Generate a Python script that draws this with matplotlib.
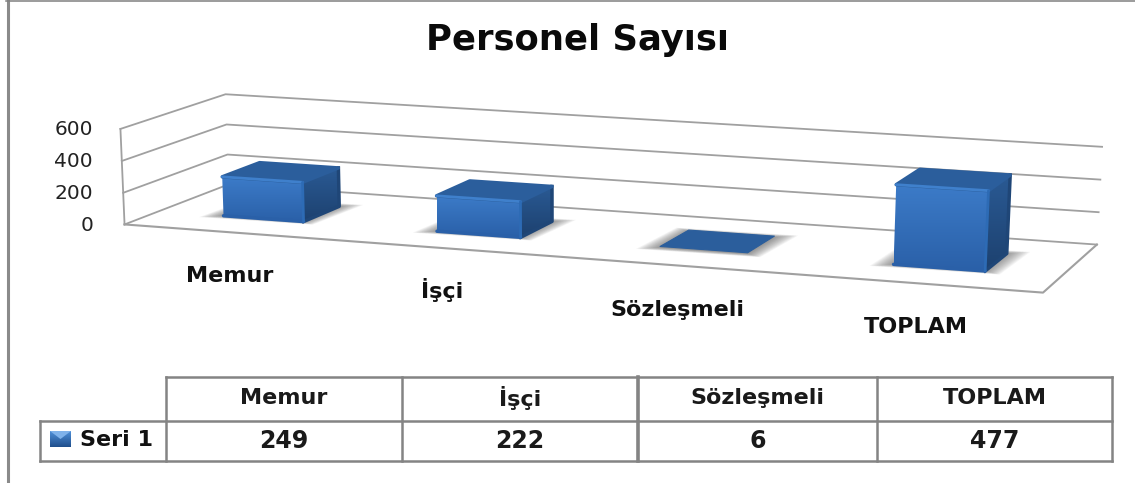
import numpy as np
import matplotlib
matplotlib.use("Agg")
import matplotlib.pyplot as plt
from matplotlib.colors import LinearSegmentedColormap
from matplotlib.patches import Polygon

categories = ["Memur", "İşçi", "Sözleşmeli", "TOPLAM"]
values = [249, 222, 6, 477]
series_name = "Seri 1"
y_ticks = [0, 200, 400, 600]

W, H = 1135, 483
GRID = "#a0a0a0"
LINE = "#848484"

# where the corners of the 3d box land in the picture: (cat, depth, value) -> pixel
corners = [
    ((0, 0, 0), (125, 224)),
    ((4, 0, 0), (1043, 293)),
    ((4, 1, 0), (1097, 244)),
    ((0, 1, 0), (228, 185)),
    ((0, 0, 600), (120, 129)),
    ((0, 1, 600), (226, 94)),
    ((4, 1, 600), (1102, 147)),
]


def fit_camera(pairs):
    # DLT, 3x4 matrix with last element fixed to 1
    rows, rhs = [], []
    for (x, d, v), (px, py) in pairs:
        rows.append([x, d, v, 1, 0, 0, 0, 0, -px * x, -px * d, -px * v])
        rhs.append(px)
        rows.append([0, 0, 0, 0, x, d, v, 1, -py * x, -py * d, -py * v])
        rhs.append(py)
    sol = np.linalg.lstsq(np.array(rows, float), np.array(rhs, float), rcond=None)[0]
    return np.append(sol, 1.0).reshape(3, 4)


CAM = fit_camera(corners)


def project(x, d, v):
    p = CAM @ np.array([x, d, v, 1.0])
    return p[0] / p[2], p[1] / p[2]


def grad_poly(ax, pts, top, bottom, zorder):
    pts = np.array(pts)
    cmap = LinearSegmentedColormap.from_list("g", [top, bottom])
    grad = np.linspace(0, 1, 64).reshape(-1, 1)
    im = ax.imshow(
        grad,
        cmap=cmap,
        aspect="auto",
        origin="upper",
        interpolation="bilinear",
        extent=(pts[:, 0].min(), pts[:, 0].max(), pts[:, 1].max(), pts[:, 1].min()),
        zorder=zorder,
    )
    clip = Polygon(pts, closed=True, transform=ax.transData)
    im.set_clip_path(clip)


def draw_shadow(ax, pts, zorder):
    pts = np.array(pts)
    c = pts.mean(axis=0)
    for s in np.linspace(1.42, 1.0, 14):
        ax.add_patch(
            Polygon(c + (pts - c) * [s, 1 + (s - 1) * 0.7], closed=True, fc="#505050", ec="none", alpha=0.06, zorder=zorder)
        )


def draw_bar(ax, i, val, zorder=3):
    x0, x1 = i + 0.31, i + 0.69
    d0, d1 = 0.32, 0.69
    fl, fr = project(x0, d0, 0), project(x1, d0, 0)
    br, bl = project(x1, d1, 0), project(x0, d1, 0)
    tfl, tfr = project(x0, d0, val), project(x1, d0, val)
    tbr, tbl = project(x1, d1, val), project(x0, d1, val)

    draw_shadow(ax, [fl, fr, br, bl], zorder - 1)
    if val > 20:
        grad_poly(ax, [fl, fr, tfr, tfl], "#3c7bc8", "#2a60a8", zorder)
        grad_poly(ax, [fr, br, tbr, tfr], "#2a5a94", "#1d416f", zorder)
        # soften the outer corners like the bevel in the original
        ax.plot([fr[0], br[0], tbr[0]], [fr[1], br[1], tbr[1]], color="#1f4677", lw=2.5, solid_joinstyle="round", zorder=zorder)
        ax.plot([fl[0], fr[0]], [fl[1], fr[1]], color="#2a60a8", lw=2.5, solid_capstyle="round", zorder=zorder)
    ax.add_patch(Polygon([tfl, tfr, tbr, tbl], closed=True, fc="#2b5e9c", ec="#2b5e9c", lw=2.5 if val > 20 else 0.8, joinstyle="round", zorder=zorder + 1))
    if val > 20:
        ax.plot([tfl[0], tfr[0]], [tfl[1], tfr[1]], color="#3f80cc", lw=2, solid_capstyle="round", zorder=zorder + 2)
        ax.plot([tfr[0], fr[0]], [tfr[1], fr[1]], color="#2d6bb5", lw=2, solid_capstyle="round", zorder=zorder + 2)


def main():
    plt.rcParams["font.family"] = ["DejaVu Sans"]
    fig = plt.figure(figsize=(W / 100, H / 100), dpi=100)
    ax = fig.add_axes([0, 0, 1, 1])

    # outer frame of the picture
    ax.plot([7.5, 7.5], [0, H], color="#8a8a8a", lw=2.2, zorder=1)
    ax.plot([6, W], [1.2, 1.2], color="#808080", lw=1.1, zorder=1)

    ax.text(577, 40, "Personel Sayısı", ha="center", va="center", fontsize=25.5, fontweight="bold", color="#0a0a0a")

    # walls and floor
    for t in y_ticks:
        a, b, c = project(0, 0, t), project(0, 1, t), project(4, 1, t)
        ax.plot([a[0], b[0], c[0]], [a[1], b[1], c[1]], color=GRID, lw=1.3, zorder=1)
        ax.text(93, a[1] + 1, str(t), ha="right", va="center", fontsize=14.5, color="#222222")
    a, b = project(0, 0, 0), project(0, 0, y_ticks[-1])
    ax.plot([a[0], b[0]], [a[1], b[1]], color=GRID, lw=1.3, zorder=1)
    fl, fr, br = project(0, 0, 0), project(4, 0, 0), project(4, 1, 0)
    ax.plot([fl[0], fr[0], br[0]], [fl[1], fr[1], br[1]], color=GRID, lw=1.5, zorder=1)

    for i, val in enumerate(values):
        draw_bar(ax, i, val)

    # category labels hang lower and lower with the floor
    label_pos = [(230, 276), (442, 290), (677, 310), (916, 327)]
    for name, (lx, ly) in zip(categories, label_pos):
        ax.text(lx, ly, name, ha="center", va="center", fontsize=16, fontweight="bold", color="#111111")

    # data table
    col_x = [166, 402, 638, 877, 1112]
    ax.plot([166, 1112], [377, 377], color=LINE, lw=1.8, zorder=2)
    ax.plot([40, 1112], [421, 421], color=LINE, lw=1.8, zorder=2)
    ax.plot([40, 1112], [461, 461], color=LINE, lw=1.8, zorder=2)
    ax.plot([40, 40], [421, 461], color=LINE, lw=1.8, zorder=2)
    for cx in col_x:
        ax.plot([cx, cx], [377, 461], color=LINE, lw=2.6 if cx == 638 else 1.8, zorder=2)
    for j, name in enumerate(categories):
        cx = (col_x[j] + col_x[j + 1]) / 2
        ax.text(cx, 398, name, ha="center", va="center", fontsize=16, fontweight="bold", color="#1a1a1a")
        ax.text(cx, 441, str(values[j]), ha="center", va="center", fontsize=17, fontweight="bold", color="#1a1a1a")

    # legend key
    grad_poly(ax, [(50, 431), (71, 431), (71, 447), (50, 447)], "#4f8fd8", "#1f4f8c", 3)
    ax.add_patch(Polygon([(50, 431), (71, 431), (60.5, 439)], closed=True, fc="#7fb2ea", ec="none", zorder=4))
    ax.text(80, 440, series_name, ha="left", va="center", fontsize=16, fontweight="bold", color="#111111")

    ax.set_xlim(0, W)
    ax.set_ylim(H, 0)
    ax.axis("off")
    fig.savefig("out.png", dpi=100, facecolor="white")


if __name__ == "__main__":
    main()
